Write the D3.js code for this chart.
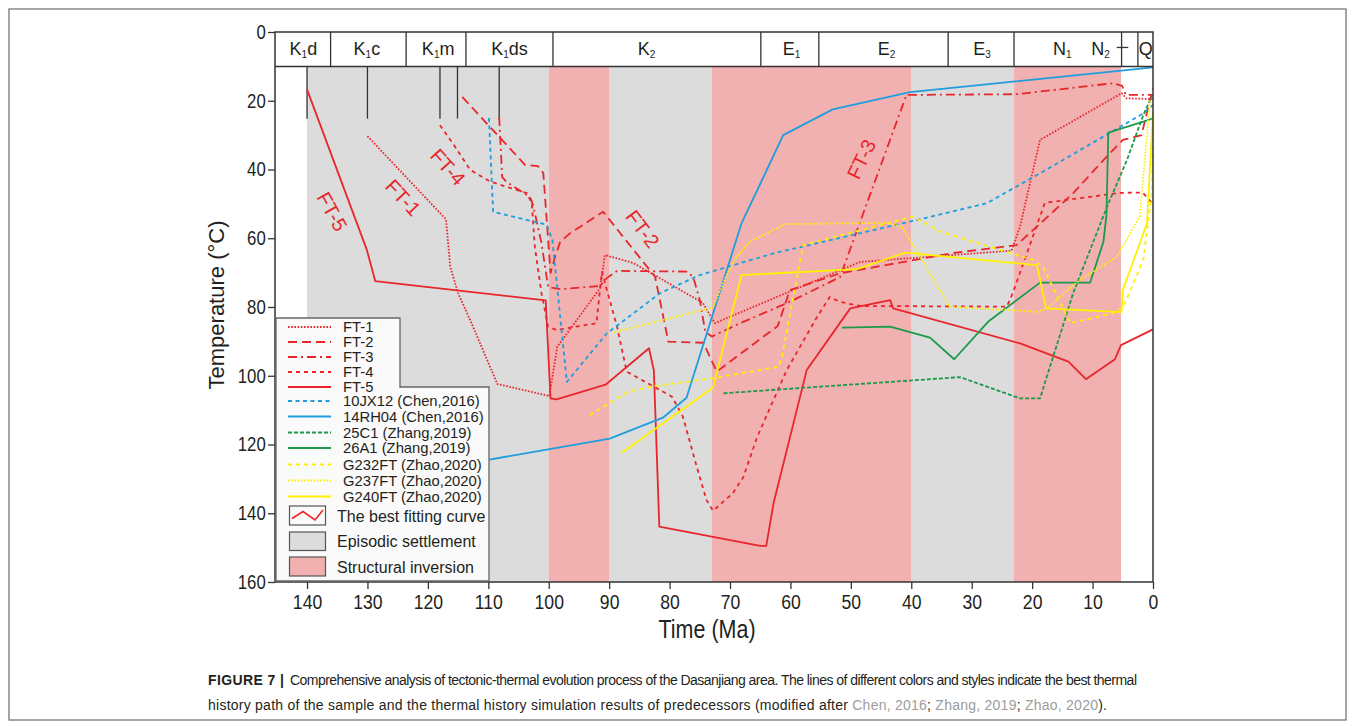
<!DOCTYPE html>
<html>
<head>
<meta charset="utf-8">
<script src="https://cdn.jsdelivr.net/npm/d3@7"></script>
<style>
  body { margin: 0; background: #fff; }
  svg text { font-family: "Liberation Sans", Arial, sans-serif; fill: #231f20; }
</style>
</head>
<body>
<div id="chart"></div>
<script>
// stage bands (Ma)
const grayBands = [[140, 100], [90, 73], [40, 23]];
const pinkBands = [[100, 90], [73, 40], [23, 5.3]];

// stratigraphic strip
const stageBounds = [136.1, 123.6, 113.7, 99.3, 64.9, 55.3, 33.9, 23, 5.2, 2.5];
const stageLabels = [
  ["K", "1", "d", 140.6], ["K", "1", "c", 130.1], ["K", "1", "m", 118.3], ["K", "1", "ds", 106.5],
  ["K", "2", "", 83.8], ["E", "1", "", 59.8], ["E", "2", "", 44.1], ["E", "3", "", 28.3],
  ["N", "1", "", 15.0], ["N", "2", "", 8.7], ["Q", "", "", 1.2]
];
const sampleAges = [140, 130, 118, 115.1, 108.2];

const ticksX = [140, 130, 120, 110, 100, 90, 80, 70, 60, 50, 40, 30, 20, 10, 0];
const ticksY = [0, 20, 40, 60, 80, 100, 120, 140, 160];

// curves [Ma, °C]
const ft1 = [[130.0,30.3],[117.0,54.5],[116.3,68.3],[115.0,76.0],[113.0,83.8],[108.5,102.4],[99.9,105.9],[98.6,91.6],[91.5,74.5],[90.7,64.9],[86.0,67.2],[74.5,78.8],[72.5,84.7],[70.5,83.2],[48.5,66.9],[23.4,63.6],[22.0,56.6],[18.7,31.4],[5.2,17.8],[4.4,19.3],[0,19.5]];
const ft2 = [[114.3,18.9],[103.9,38.7],[101.8,39.0],[100.9,41.0],[99.7,70.1],[99.0,65.7],[98.1,61.0],[96.5,58.6],[91.0,52.3],[82.4,71.2],[80.2,90.1],[74.4,90.4],[72.2,98.8],[62.1,85.5],[60.1,75.1],[51.8,70.2],[33.1,64.3],[22.6,62.0],[19.2,56.6],[13.2,46.9],[7.7,36.3],[5.0,31.4],[1.9,30.0],[0.5,19.8],[0,16.3]];
const ft3 = [[108.2,24.7],[107.7,42.2],[107.0,43.6],[103.1,48.0],[102.6,50.3],[101.2,61.4],[100.1,74.2],[98.1,74.8],[91.5,73.9],[90.4,71.6],[88.7,69.5],[77.2,69.7],[76.1,71.2],[75.0,78.0],[74.1,87.2],[73.0,88.6],[68.3,84.7],[60.6,78.9],[51.8,71.3],[40.8,18.3],[22.6,18.1],[6.6,14.9],[5.1,15.7],[4.5,18.3],[0,18.3]];
const ft4 = [[118.0,27.1],[115.5,33.4],[113.0,40.1],[109.7,43.5],[103.6,46.9],[102.8,49.8],[102.3,62.5],[101.2,76.0],[100.1,85.7],[98.7,86.7],[92.1,84.7],[91.2,69.8],[88.7,85.7],[87.1,98.8],[79.6,106.1],[77.8,111.9],[75.5,126.5],[73.9,136.1],[72.8,139.3],[69.5,134.1],[67.8,129.5],[65.5,117.8],[60.6,98.3],[55.6,82.9],[53.5,77.1],[51.8,78.5],[48.5,79.7],[24.2,79.9],[23.2,75.9],[17.9,49.7],[5.5,46.8],[1.7,46.7],[0.2,49.7]];
const ft5 = [[140,16.7],[130.1,63.4],[128.7,72.5],[100.5,78.1],[99.7,106.6],[98.7,106.9],[90.6,102.6],[83.4,92.0],[82.6,98.5],[81.7,143.9],[65.0,149.5],[64.0,149.5],[62.8,137.1],[57.3,98.3],[50.1,80.4],[43.5,78.0],[43.0,80.4],[22.0,90.6],[14.0,95.9],[11.1,101.0],[6.3,95.2],[5.3,91.1],[0,86.5]];
const jx12 = [[109.9,25.0],[109.2,52.3],[100.3,56.1],[99.4,60.5],[97.0,101.8],[90.4,87.7],[81.6,76.0],[75.0,70.7],[62.8,64.4],[41.3,55.6],[27.5,49.8],[18.7,41.1],[1.6,23.7],[0,21.2]];
const rh04 = [[110.5,124.6],[89.9,118.3],[81.1,112.2],[77.2,106.4],[68.1,55.7],[61.2,30.0],[53.0,22.5],[40.2,17.5],[0,10.3]];
const c25 = [[71.1,105.1],[31.9,100.4],[22.0,106.6],[18.7,106.6],[13.2,75.9],[7.6,50.8],[4.3,37.2],[1.7,24.6],[0.2,18.6]];
const a26 = [[51.5,86.0],[43.5,85.7],[36.9,88.9],[32.9,95.2],[27.3,84.3],[18.7,72.9],[10.4,72.9],[8.2,61.0],[7.7,53.2],[7.4,29.3],[1.6,26.1],[0,25.1]];
const g232 = [[93.2,111.4],[86.8,104.6],[83.2,103.2],[72.8,100.7],[62.0,97.4],[61.4,94.5],[57.9,62.0],[39.7,53.7],[35.2,58.1],[19.8,66.3],[18.2,68.3],[13.7,84.7],[6.6,81.8],[4.9,79.9],[1.6,66.3],[0.2,46.9],[0,27.1]];
const g237 = [[89.3,87.4],[72.8,80.1],[70.8,71.6],[68.9,65.4],[66.7,61.0],[60.9,55.9],[44.1,55.5],[41.6,56.6],[33.6,79.9],[19.2,81.4],[17.6,80.4],[12.1,72.1],[6.0,65.4],[2.2,53.7],[0.5,19.8]];
const g240 = [[87.9,122.4],[72.8,103.4],[68.1,70.7],[49.0,69.0],[41.0,64.2],[19.2,67.8],[17.7,80.4],[5.2,81.5],[5.0,75.1],[1.0,55.7],[0,23.7]];

const seriesNames = ["FT-1", "FT-2", "FT-3", "FT-4", "FT-5", "10JX12 (Chen,2016)", "14RH04 (Chen,2016)",
  "25C1 (Zhang,2019)", "26A1 (Zhang,2019)", "G232FT (Zhao,2020)", "G237FT (Zhao,2020)", "G240FT (Zhao,2020)"];
const seriesData = [ft1, ft2, ft3, ft4, ft5, jx12, rh04, c25, a26, g232, g237, g240];

// curve labels [text, Ma, °C, angle]
const curveLabels = [["FT-5", 136.1, 52.5, 61], ["FT-1", 124.3, 48.5, 47], ["FT-4", 116.9, 39.6, 48], ["FT-2", 84.7, 57.6, 53], ["FT-3", 48.0, 37.2, -64]];

const RED = "#e8262b", BLUE = "#1f9ddc", GREEN = "#1c9a4a", YELLOW = "#fff000";
const styles = [
  { c: RED, d: "1.6,1.6" }, { c: RED, d: "9,5" }, { c: RED, d: "9,4,2,4" }, { c: RED, d: "4,4" }, { c: RED, d: null },
  { c: BLUE, d: "4,3.5" }, { c: BLUE, d: null }, { c: GREEN, d: "4,2" }, { c: GREEN, d: null },
  { c: YELLOW, d: "4,4" }, { c: YELLOW, d: "1.6,1.6" }, { c: YELLOW, d: null }
];

const W = 1355, H = 726;
const svg = d3.select("#chart").append("svg").attr("width", W).attr("height", H);

// outer frame
svg.append("rect").attr("x", 9).attr("y", 9).attr("width", 1337).attr("height", 711)
  .attr("fill", "none").attr("stroke", "#6b6b6b").attr("stroke-width", 1.2);

const x = d3.scaleLinear().domain([145.3, 0]).range([275, 1153]);
const y = d3.scaleLinear().domain([0, 160]).range([32, 582]);

const g = svg.append("g");

// bands
g.selectAll(".gray").data(grayBands).enter().append("rect")
  .attr("x", d => x(d[0])).attr("width", d => x(d[1]) - x(d[0]))
  .attr("y", y(10)).attr("height", y(160) - y(10)).attr("fill", "#dcdcdc");
g.selectAll(".pink").data(pinkBands).enter().append("rect")
  .attr("x", d => x(d[0])).attr("width", d => x(d[1]) - x(d[0]))
  .attr("y", y(10)).attr("height", y(160) - y(10)).attr("fill", "#f1b1b1");

// sample markers
g.selectAll(".sample").data(sampleAges).enter().append("line")
  .attr("x1", d => x(d)).attr("x2", d => x(d)).attr("y1", y(10)).attr("y2", y(25.2))
  .attr("stroke", "#333").attr("stroke-width", 1.3);

// curves
const line = d3.line().x(d => x(d[0])).y(d => y(d[1]));
seriesData.forEach((s, i) => {
  g.append("path").datum(s).attr("d", line)
    .attr("fill", "none").attr("stroke", styles[i].c).attr("stroke-width", 1.8)
    .attr("stroke-linejoin", "round")
    .attr("stroke-dasharray", styles[i].d);
});

// curve labels
curveLabels.forEach(l => {
  g.append("text").attr("transform", `translate(${x(l[1])},${y(l[2])}) rotate(${l[3]})`)
    .attr("text-anchor", "middle").attr("dominant-baseline", "middle")
    .style("font-size", "20px").style("fill", RED).text(l[0]);
});

// strip
const strip = g.append("g");
strip.append("rect").attr("x", x(145.3)).attr("y", y(0)).attr("width", x(0) - x(145.3)).attr("height", y(10) - y(0))
  .attr("fill", "#fff").attr("stroke", "none");
strip.selectAll(".sb").data(stageBounds).enter().append("line")
  .attr("x1", d => x(d)).attr("x2", d => x(d)).attr("y1", y(0)).attr("y2", y(10))
  .attr("stroke", "#333").attr("stroke-width", 1.3);
strip.append("line").attr("x1", x(145.3)).attr("x2", x(0)).attr("y1", y(10)).attr("y2", y(10))
  .attr("stroke", "#333").attr("stroke-width", 1.5);
strip.append("line").attr("x1", x(6)).attr("x2", x(4.1)).attr("y1", y(4.5)).attr("y2", y(4.5))
  .attr("stroke", "#333").attr("stroke-width", 1.3);
stageLabels.forEach(s => {
  const t = strip.append("text").attr("x", x(s[3])).attr("y", y(6.6)).attr("text-anchor", "middle")
    .style("font-size", "18px");
  t.append("tspan").text(s[0]);
  if (s[1]) t.append("tspan").attr("dy", 3).style("font-size", "10px").text(s[1]);
  if (s[2]) t.append("tspan").attr("dy", -3).text(s[2]);
});

// frame
g.append("rect").attr("x", x(145.3)).attr("y", y(0)).attr("width", x(0) - x(145.3)).attr("height", y(160) - y(0))
  .attr("fill", "none").attr("stroke", "#333").attr("stroke-width", 1.5);

// axes (condensed look via horizontal scale)
const yAxis = g.append("g").attr("transform", `translate(${x(145.3)},0)`)
  .call(d3.axisLeft(y).tickValues(ticksY).tickSize(7).tickPadding(4));
yAxis.select(".domain").remove();
yAxis.selectAll("line").attr("stroke", "#333").attr("stroke-width", 1.3);
yAxis.selectAll("text").style("font-size", "20px").attr("transform", "scale(0.84,1)").attr("fill", "#231f20");

const xAxis = g.append("g").attr("transform", `translate(0,${y(160)})`)
  .call(d3.axisBottom(x).tickValues(ticksX).tickSize(7).tickPadding(5));
xAxis.select(".domain").remove();
xAxis.selectAll("line").attr("stroke", "#333").attr("stroke-width", 1.3);
xAxis.selectAll("text").style("font-size", "21px").attr("transform", "scale(0.84,1)").attr("fill", "#231f20");

g.append("text").attr("transform", "translate(707,638) scale(0.86,1)").attr("text-anchor", "middle")
  .style("font-size", "25px").text("Time (Ma)");
g.append("text").attr("transform", "translate(224,305) rotate(-90)").attr("text-anchor", "middle")
  .style("font-size", "22px").text("Temperature (°C)");

// legend
const leg = g.append("g");
leg.append("path").attr("d", "M276,318 H400 V387 H489 V581 H276 Z")
  .attr("fill", "#fafafa").attr("stroke", "#666").attr("stroke-width", 1.3);
const rowY = [327, 342, 357, 372, 387, 401, 416.5, 432.5, 448, 464.5, 480.5, 496.5];
seriesNames.forEach((n, i) => {
  leg.append("line").attr("x1", 288).attr("x2", 331).attr("y1", rowY[i]).attr("y2", rowY[i])
    .attr("stroke", styles[i].c).attr("stroke-width", 1.8).attr("stroke-dasharray", styles[i].d);
  leg.append("text").attr("x", 343).attr("y", rowY[i]).attr("dy", "0.36em").style("font-size", "14.8px").text(n);
});
leg.append("rect").attr("x", 289.5).attr("y", 506).attr("width", 36).attr("height", 19)
  .attr("fill", "#fafafa").attr("stroke", "#555").attr("stroke-width", 1.2);
leg.append("path").attr("d", "M292,518.5 L303,511.5 L315,520 L323,510").attr("fill", "none").attr("stroke", RED).attr("stroke-width", 1.6);
leg.append("rect").attr("x", 289.5).attr("y", 532).attr("width", 36).attr("height", 18.5)
  .attr("fill", "#dcdcdc").attr("stroke", "#555").attr("stroke-width", 1.2);
leg.append("rect").attr("x", 289.5).attr("y", 557).attr("width", 36).attr("height", 19)
  .attr("fill", "#f1b1b1").attr("stroke", "#555").attr("stroke-width", 1.2);
[["The best fitting curve", 516], ["Episodic settlement", 541.5], ["Structural inversion", 567]].forEach(t => {
  leg.append("text").attr("x", 337).attr("y", t[1]).attr("dy", "0.36em").style("font-size", "16px").text(t[0]);
});

// caption
const cap = svg.append("g").style("font-size", "14px");
cap.append("text").attr("x", 208).attr("y", 685).style("font-weight", "bold")
  .attr("textLength", 76).attr("lengthAdjust", "spacing").text("FIGURE 7 |");
cap.append("text").attr("x", 290).attr("y", 685)
  .attr("textLength", 847).attr("lengthAdjust", "spacing")
  .text("Comprehensive analysis of tectonic-thermal evolution process of the Dasanjiang area. The lines of different colors and styles indicate the best thermal");
const c2 = cap.append("text").attr("x", 208).attr("y", 710)
  .attr("textLength", 899).attr("lengthAdjust", "spacing");
c2.append("tspan").text("history path of the sample and the thermal history simulation results of predecessors (modified after ");
c2.append("tspan").style("fill", "#9c9c9c").text("Chen, 2016");
c2.append("tspan").text("; ");
c2.append("tspan").style("fill", "#9c9c9c").text("Zhang, 2019");
c2.append("tspan").text("; ");
c2.append("tspan").style("fill", "#9c9c9c").text("Zhao, 2020");
c2.append("tspan").text(").");
</script>
</body>
</html>
